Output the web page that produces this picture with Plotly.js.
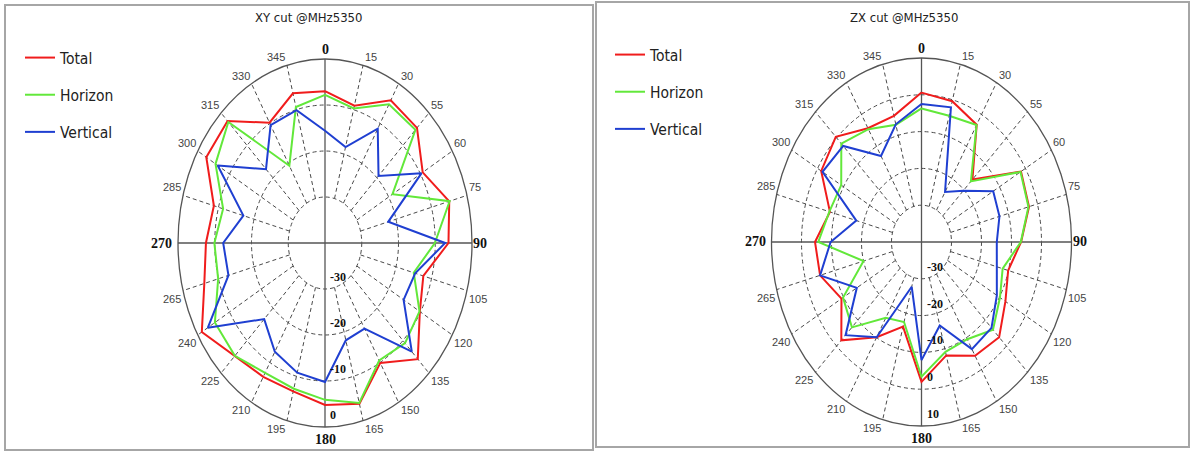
<!DOCTYPE html>
<html><head><meta charset="utf-8">
<script src="https://cdn.plot.ly/plotly-3.0.1.min.js"></script>
<style>html,body{margin:0;padding:0;background:#fff;}#chart{width:1191px;height:452px;}</style>
</head><body><div id="chart"></div>
<script>
// ---- data ----
const angles = [0,15,30,45,60,75,90,105,120,135,150,165,180,195,210,225,240,255,270,285,300,315,330,345];
const angleLabels = ['0','15','30','55','60','75','90','105','120','135','150','165','180','195','210','225','240','265','270','285','300','315','330','345'];
const seriesNames = ['Total','Horizon','Vertical'];
const seriesColors = ['#f01c1c','#62e83a','#1f3fd1'];

const xyTotal    = [-7.0,-9.1,-4.2,-4.6,-9.3,-5.0,-6.4,-12.3,-10.2,-4.3,-9.9,-3.8,-4.8,-6.6,-6.4,-5.2,-1.3,-6.0,-7.6,-8.7,-2.7,-2.5,-9.8,-6.3];
const xyHorizon  = [-7.8,-9.7,-5.2,-5.2,-18.8,-4.9,-10.1,-15.0,-10.3,-9.2,-10.5,-4.0,-5.9,-7.2,-7.4,-5.3,-5.4,-9.9,-9.9,-11.3,-5.6,-2.8,-20.6,-9.4];
const xyVertical = [-15.6,-18.4,-11.3,-19.4,-9.7,-22.2,-7.3,-14.6,-15.3,-6.6,-18.5,-18.1,-9.8,-10.8,-12.7,-16.6,-3.2,-12.8,-12.3,-17.0,-6.3,-17.3,-10.4,-10.1];

const zxTotal    = [0.6,-0.4,-3.2,-16.0,-1.7,-2.9,-6.8,-10.1,-7.7,-3.4,-4.3,-8.1,-2.0,-16.2,-10.1,-2.2,-9.2,-5.0,-4.5,-8.4,-1.4,0.4,-4.3,-4.5];
const zxHorizon  = [-3.7,-4.5,-3.3,-16.7,-1.9,-3.1,-6.9,-12.0,-9.8,-6.3,-9.5,-9.1,-3.4,-17.5,-16.2,-7.2,-9.8,-20.0,-5.6,-8.2,-9.1,-2.2,-4.6,-7.0];
const zxVertical = [-2.5,-2.1,-24.3,-20.3,-12.4,-13.1,-14.9,-14.0,-11.0,-7.0,-6.4,-16.5,-7.9,-27.4,-10.1,-4.2,-15.1,-5.0,-9.7,-17.5,-1.9,-3.1,-13.0,-6.9];

const xyRadialRange = [-40, 0];
const xyRingValues = [-30,-20,-10,0];
const xyRingLabels = ['-30','-20','-10','0'];
const zxRadialRange = [-40, 10];
const zxRingValues = [-30,-20,-10,0,10];
const zxRingLabels = ['-30','-20','-10','0','10'];

// ---- layout helpers ----
const W = 1191, H = 452;
const XR = 1.3, YR = 1.12;
const condensed = '"DejaVu Sans Condensed","Liberation Sans",sans-serif';
const tickFont = {family:'"Liberation Sans",Arial,sans-serif', size:11, color:'#444'};
const cardFont = {family:'"Liberation Serif","Times New Roman",serif', size:14, color:'#111', weight:'bold'};
const ringFont = {family:'"Liberation Serif","Times New Roman",serif', size:12, color:'#111', weight:'bold'};
const gridColor = '#4a4a4a';

const panels = [
  {id:'', cx:325, cy:243, a:147, b:184, range:xyRadialRange, rings:xyRingValues, ringLabels:xyRingLabels,
   series:[xyTotal,xyHorizon,xyVertical], title:'XY cut @MHz5350', titleX:253, legend:'legend', legendX:20, legendY:41, box:[5,5,593,450]},
  {id:'2', cx:921.5, cy:242, a:150, b:184, range:zxRadialRange, rings:zxRingValues, ringLabels:zxRingLabels,
   series:[zxTotal,zxHorizon,zxVertical], title:'ZX cut @MHz5350', titleX:848, legend:'legend2', legendX:610, legendY:38, box:[596,2,1189,447]}
];

const rad = d => d*Math.PI/180;
const rho = (v, r) => (v - r[0])/(r[1] - r[0]);

const traces = [], shapes = [], annotations = [];
const layout = {width:W, height:H, margin:{l:0,r:0,t:0,b:0}, paper_bgcolor:'#fff', plot_bgcolor:'rgba(0,0,0,0)',
  hovermode:false, showlegend:true};

panels.forEach(p => {
  const xa = 'x'+p.id, ya = 'y'+p.id;
  layout['xaxis'+p.id] = {domain:[(p.cx - p.a*XR)/W, (p.cx + p.a*XR)/W], range:[-XR, XR], visible:false, fixedrange:true};
  layout['yaxis'+p.id] = {domain:[1 - (p.cy + p.b*YR)/H, 1 - (p.cy - p.b*YR)/H], range:[-YR, YR], visible:false, fixedrange:true};

  // panel frame
  shapes.push({type:'rect', xref:'paper', yref:'paper', x0:p.box[0]/W, x1:p.box[2]/W, y0:1-p.box[3]/H, y1:1-p.box[1]/H,
    line:{color:'#a6a6a6', width:2}, layer:'below'});

  // rings
  const ringRhos = p.rings.map(v => rho(v, p.range));
  ringRhos.forEach(r => {
    if (r < 0.999) shapes.push({type:'circle', xref:xa, yref:ya, x0:-r, x1:r, y0:-r, y1:r, line:{color:gridColor, width:1, dash:'4px,3px'}, layer:'below'});
  });
  shapes.push({type:'circle', xref:xa, yref:ya, x0:-1, x1:1, y0:-1, y1:1, line:{color:'#555', width:1.3}, layer:'below'});
  // spokes
  const r0 = ringRhos[0];
  angles.forEach(ang => {
    const s = Math.sin(rad(ang)), c = Math.cos(rad(ang));
    if (ang % 90 === 0) return;
    shapes.push({type:'line', xref:xa, yref:ya, x0:r0*s, y0:r0*c, x1:s, y1:c, line:{color:gridColor, width:1, dash:'4px,3px'}, layer:'below'});
  });
  shapes.push({type:'line', xref:xa, yref:ya, x0:-1, y0:0, x1:1, y1:0, line:{color:'#555', width:1.3}, layer:'below'});
  shapes.push({type:'line', xref:xa, yref:ya, x0:0, y0:-1, x1:0, y1:1, line:{color:'#555', width:1.3}, layer:'below'});

  // series
  seriesNames.forEach((name, si) => {
    const vals = p.series[si];
    const xs = [], ys = [];
    angles.forEach((ang, i) => {
      const r = rho(vals[i], p.range);
      xs.push(r*Math.sin(rad(ang))); ys.push(r*Math.cos(rad(ang)));
    });
    xs.push(xs[0]); ys.push(ys[0]);
    traces.push({type:'scatter', mode:'lines', x:xs, y:ys, xaxis:xa, yaxis:ya, name:name,
      legend:p.legend, legendgroup:p.legend+name, line:{color:seriesColors[si], width:2}, hoverinfo:'skip'});
  });

  // angular labels
  angles.forEach((ang, i) => {
    const s = Math.sin(rad(ang)), c = Math.cos(rad(ang));
    const card = ang % 90 === 0;
    const xanchor = s > 0.2 ? 'left' : (s < -0.2 ? 'right' : 'center');
    const yanchor = c > 0.2 ? 'bottom' : (c < -0.2 ? 'top' : 'middle');
    let g = 0;
    if (ang === 180) g = 3; else if (ang === 270) g = 4; else if (ang === 0) g = 0; else if (ang === 90) g = -1;
    annotations.push({xref:xa, yref:ya, x:s, y:c, text:angleLabels[i], showarrow:false,
      xanchor:xanchor, yanchor:yanchor,
      xshift: xanchor==='left' ? g : (xanchor==='right' ? -g : 0),
      yshift: yanchor==='bottom' ? g : (yanchor==='top' ? -g : 0),
      font: card ? cardFont : tickFont});
  });

  // radial labels
  p.rings.forEach((v, k) => {
    annotations.push({xref:xa, yref:ya, x:0, y:-rho(v, p.range), text:p.ringLabels[k], showarrow:false,
      xanchor:'left', yanchor:'bottom', xshift:3, yshift:3, font:ringFont});
  });

  // title
  annotations.push({xref:'paper', yref:'paper', x:p.titleX/W, y:1-18/H, text:p.title, showarrow:false,
    xanchor:'left', yanchor:'middle', font:{family:condensed, size:13, color:'#222'}});

  layout[p.legend] = {x:p.legendX/W, y:1-p.legendY/H, xanchor:'left', yanchor:'top', bgcolor:'rgba(0,0,0,0)',
    borderwidth:0, tracegroupgap:14, font:{family:condensed, size:15.5, color:'#222'}};
});

layout.shapes = shapes;
layout.annotations = annotations;

Plotly.newPlot('chart', traces, layout, {staticPlot:true, displayModeBar:false});
</script>
</body></html>
